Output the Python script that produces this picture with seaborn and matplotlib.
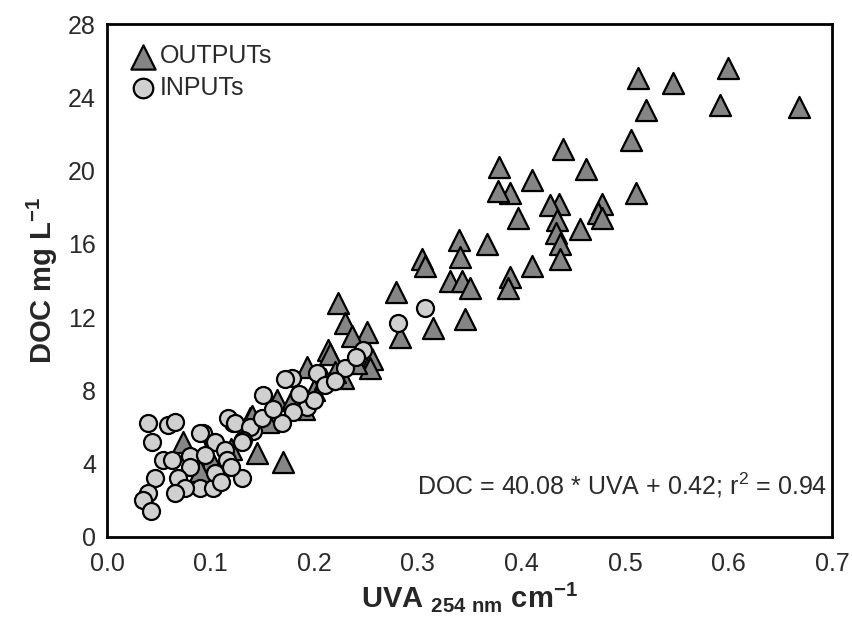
import matplotlib
matplotlib.use("Agg")
import matplotlib.pyplot as plt
import numpy as np
import pandas as pd
import seaborn as sns

# OUTPUTs (triangles): UVA254 (cm-1), DOC (mg/L)
out_uva = [0.668, 0.600, 0.592, 0.546, 0.513, 0.520, 0.506, 0.511, 0.478, 0.474,
           0.478, 0.462, 0.457, 0.440, 0.436, 0.428, 0.434, 0.433, 0.437, 0.437,
           0.410, 0.410, 0.397, 0.389, 0.377, 0.378, 0.389, 0.387, 0.367, 0.340,
           0.341, 0.304, 0.307, 0.331, 0.343, 0.350, 0.346, 0.279, 0.315, 0.283,
           0.223, 0.230, 0.251, 0.237, 0.213, 0.215, 0.256, 0.254, 0.193, 0.228,
           0.164, 0.138, 0.140, 0.145, 0.170, 0.073, 0.180, 0.200, 0.210, 0.220,
           0.240, 0.190, 0.155, 0.100, 0.120, 0.090]
out_doc = [23.5, 25.6, 23.6, 24.8, 25.05, 23.3, 21.7, 18.8, 18.2, 17.7,
           17.4, 20.1, 16.8, 21.2, 18.2, 18.1, 17.3, 16.6, 16.0, 15.2,
           19.5, 14.8, 17.4, 18.8, 18.9, 20.2, 14.2, 13.6, 16.0, 16.2,
           15.3, 15.2, 14.8, 14.0, 14.0, 13.6, 11.9, 13.4, 11.4, 10.9,
           12.8, 11.7, 11.2, 11.0, 10.2, 10.0, 9.7, 9.2, 9.3, 8.7,
           7.5, 6.5, 6.6, 4.6, 4.1, 5.2, 7.6, 8.0, 8.6, 9.0,
           9.5, 7.0, 6.3, 4.2, 4.8, 3.6]

# INPUTs (circles)
in_uva = [0.307, 0.281, 0.247, 0.230, 0.203, 0.179, 0.172, 0.151, 0.193, 0.180,
          0.169, 0.141, 0.122, 0.117, 0.124, 0.138, 0.131, 0.102, 0.130, 0.093,
          0.090, 0.040, 0.043, 0.059, 0.066, 0.104, 0.114, 0.054, 0.063, 0.080,
          0.080, 0.069, 0.090, 0.102, 0.075, 0.066, 0.046, 0.040, 0.035, 0.042,
          0.104, 0.116, 0.130, 0.120, 0.095, 0.110, 0.150, 0.160, 0.200, 0.210,
          0.220, 0.185, 0.240]
in_doc = [12.5, 11.7, 10.2, 9.2, 8.95, 8.7, 8.6, 7.75, 7.1, 6.8,
          6.2, 5.8, 6.2, 6.5, 6.2, 6.0, 5.3, 5.2, 5.2, 5.7,
          5.7, 6.2, 5.2, 6.1, 6.3, 5.2, 4.75, 4.2, 4.2, 4.4,
          3.8, 3.2, 2.7, 2.7, 2.7, 2.4, 3.2, 2.4, 2.0, 1.4,
          3.5, 4.2, 3.2, 3.8, 4.5, 3.0, 6.5, 7.0, 7.5, 8.3,
          8.5, 7.8, 9.8]

x_ticks = [0.0, 0.1, 0.2, 0.3, 0.4, 0.5, 0.6, 0.7]
y_ticks = [0, 4, 8, 12, 16, 20, 24, 28]

sns.set_theme(style="white")
plt.rcParams["font.family"] = ["Liberation Sans", "DejaVu Sans"]
plt.rcParams["mathtext.fontset"] = "custom"
plt.rcParams["mathtext.rm"] = "Liberation Sans"
plt.rcParams["mathtext.bf"] = "Liberation Sans:bold"

outputs = pd.DataFrame({"uva": out_uva, "doc": out_doc})
inputs = pd.DataFrame({"uva": in_uva, "doc": in_doc})

fig = plt.figure(figsize=(8.52, 6.19), dpi=100)
ax = fig.add_axes([0.1256, 0.1325, 0.851, 0.8285])

sns.scatterplot(data=outputs, x="uva", y="doc", marker="^", s=230,
                color="#858585", edgecolor="black", linewidth=1.6,
                label="OUTPUTs", ax=ax, zorder=3)
sns.scatterplot(data=inputs, x="uva", y="doc", marker="o", s=150,
                color="#d0d0d0", edgecolor="black", linewidth=1.6,
                label="INPUTs", ax=ax, zorder=4)

ax.set_xlim(0, 0.7)
ax.set_ylim(0, 28)
ax.set_xticks(x_ticks)
ax.set_xticklabels([f"{t:.1f}" for t in x_ticks])
ax.set_yticks(y_ticks)
ax.tick_params(axis="both", direction="out", length=5, width=1.5,
               labelsize=18, color="black", labelcolor="#2a2a2a", pad=3)
ax.tick_params(axis="x", pad=6)
for sp in ax.spines.values():
    sp.set_color("black")
    sp.set_linewidth(2)

ax.set_xlabel(r"UVA $_{\mathbf{254\ nm}}$ cm$^{\mathbf{-1}}$", fontsize=21,
              fontweight="bold", labelpad=3)
ax.set_ylabel(r"DOC mg L$^{\mathbf{-1}}$", fontsize=21, fontweight="bold",
              labelpad=6)

ax.text(0.993, 0.10, r"DOC = 40.08 * UVA + 0.42; r$^2$ = 0.94",
        transform=ax.transAxes, ha="right", va="center", fontsize=18,
        color="#2a2a2a")

leg = ax.legend(loc="upper left", frameon=False, fontsize=18, markerscale=1.15,
                handletextpad=0.0, borderaxespad=0.3, labelspacing=0.3,
                handlelength=1.3, borderpad=0.5, bbox_to_anchor=(0.0, 1.0))
for t in leg.get_texts():
    t.set_color("#2a2a2a")

fig.savefig("out.png", dpi=100)
